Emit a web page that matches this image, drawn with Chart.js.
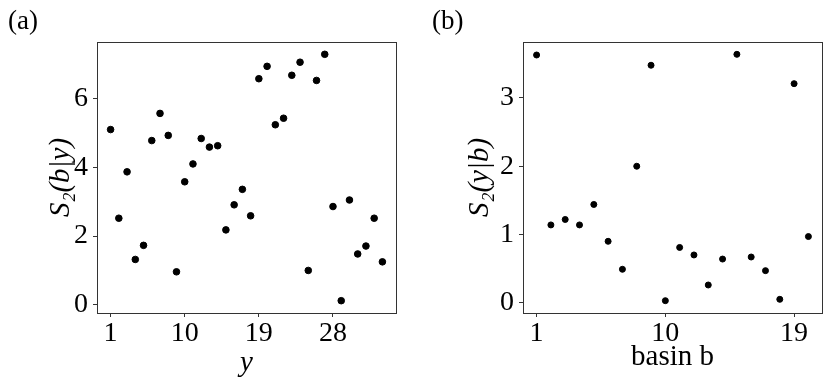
<!DOCTYPE html>
<html>
<head>
<meta charset="utf-8">
<script src="https://cdn.jsdelivr.net/npm/chart.js@4.4.1/dist/chart.umd.min.js"></script>
<style>
  html, body { margin: 0; padding: 0; background: #fff; }
  #wrap { position: relative; width: 830px; height: 388px; }
  .panel { position: absolute; top: 0; width: 415px; height: 388px; }
</style>
</head>
<body>
<div id="wrap">
  <div class="panel" style="left:0"><canvas id="chartA" width="415" height="388"></canvas></div>
  <div class="panel" style="left:415px"><canvas id="chartB" width="415" height="388"></canvas></div>
</div>
<script>
// (a) S2(b|y) against y
const yIndex = [1,2,3,4,5,6,7,8,9,10,11,12,13,14,15,16,17,18,19,20,21,22,23,24,25,26,27,28,29,30,31,32,33,34];
const s2bGivenY = [5.10,2.52,3.87,1.32,1.73,4.78,5.57,4.93,0.96,3.58,4.10,4.84,4.59,4.63,2.18,2.91,3.36,2.59,
                   6.58,6.94,5.24,5.43,6.68,7.06,1.00,6.53,7.29,2.86,0.12,3.05,1.48,1.71,2.52,1.25];
const xTicksA = [1, 10, 19, 28];
const yTicksA = [0, 2, 4, 6];

// (b) S2(y|b) against basin b
const basin = [1,2,3,4,5,6,7,8,9,10,11,12,13,14,15,16,17,18,19,20];
const s2yGivenB = [3.63,1.14,1.22,1.14,1.44,0.90,0.49,2.00,3.48,0.03,0.81,0.70,0.26,0.64,3.64,0.67,0.47,0.05,3.21,0.97];
const xTicksB = [1, 10, 19];
const yTicksB = [0, 1, 2, 3];

const serif = "'Liberation Serif', 'DejaVu Serif', serif";

// matplotlib style 5% margins
function padRange(arr) {
  let lo = Math.min(...arr), hi = Math.max(...arr);
  let m = (hi - lo) * 0.05;
  return [lo - m, hi + m];
}

// box round the plot area (all four spines)
const framePlugin = {
  id: 'frame',
  beforeDatasetsDraw(chart) {
    const a = chart.chartArea;
    const ctx = chart.ctx;
    ctx.save();
    ctx.strokeStyle = '#333';
    ctx.lineWidth = 1;
    ctx.strokeRect(Math.round(a.left) + 0.5, Math.round(a.top) + 0.5,
                   Math.round(a.right - a.left), Math.round(a.bottom - a.top));
    ctx.restore();
  }
};

function makeChart(id, xs, ys, opt) {
  const pts = xs.map((x, i) => ({x: x, y: ys[i]}));
  const xr = padRange(xs), yr = padRange(ys);
  return new Chart(document.getElementById(id), {
    type: 'scatter',
    data: {
      datasets: [{
        data: pts,
        backgroundColor: '#000',
        borderColor: '#000',
        pointRadius: opt.radius,
        pointHoverRadius: opt.radius
      }]
    },
    plugins: [framePlugin],
    options: {
      responsive: false,
      animation: false,
      devicePixelRatio: 1,
      layout: { padding: { left: opt.padLeft, right: opt.padRight, top: 0, bottom: 0 } },
      plugins: {
        legend: { display: false },
        tooltip: { enabled: false },
        title: {
          display: true,
          text: opt.panel,
          align: 'start',
          color: '#000',
          font: { family: serif, size: 27, weight: 'normal' },
          padding: { top: 6, bottom: 3.6 }
        }
      },
      scales: {
        x: {
          type: 'linear',
          min: xr[0],
          max: xr[1],
          afterBuildTicks: (s) => { s.ticks = opt.xTicks.map(v => ({value: v})); },
          afterFit: (s) => { s.height = 75; },
          grid: { drawOnChartArea: false, drawTicks: true, tickLength: 4, tickColor: '#333' },
          border: { display: false },
          ticks: { color: '#000', padding: 0, maxRotation: 0, font: { family: serif, size: 28 },
                   callback: (v) => v },
          title: {
            display: true,
            text: opt.xTitle,
            color: '#000',
            font: { family: serif, size: 29, style: opt.xItalic ? 'italic' : 'normal' },
            padding: { top: 0, bottom: opt.xTitlePad }
          }
        },
        y: {
          type: 'linear',
          min: yr[0],
          max: yr[1],
          afterBuildTicks: (s) => { s.ticks = opt.yTicks.map(v => ({value: v})); },
          afterFit: (s) => { s.width = opt.yWidth; },
          grid: { drawOnChartArea: false, drawTicks: true, tickLength: 4, tickColor: '#333' },
          border: { display: false },
          ticks: { color: '#000', padding: 5, font: { family: serif, size: 28 },
                   callback: (v) => v },
          title: {
            display: true,
            text: opt.yTitle,
            color: '#000',
            font: { family: serif, size: 29, style: 'italic' },
            padding: { top: opt.yTitlePad, bottom: 0 }
          }
        }
      }
    }
  });
}

makeChart('chartA', yIndex, s2bGivenY, {
  panel: '(a)', xTicks: xTicksA, yTicks: yTicksA,
  xTitle: 'y', xItalic: true, yTitle: 'S₂(b|y)',
  padLeft: 8, padRight: 19, yWidth: 89, radius: 3.3,
  xTitlePad: 7, yTitlePad: 36
});

makeChart('chartB', basin, s2yGivenB, {
  panel: '(b)', xTicks: xTicksB, yTicks: yTicksB,
  xTitle: 'basin b', xItalic: false, yTitle: 'S₂(y|b)',
  padLeft: 17, padRight: 8, yWidth: 91, radius: 3,
  xTitlePad: 13, yTitlePad: 31
});
</script>
</body>
</html>
